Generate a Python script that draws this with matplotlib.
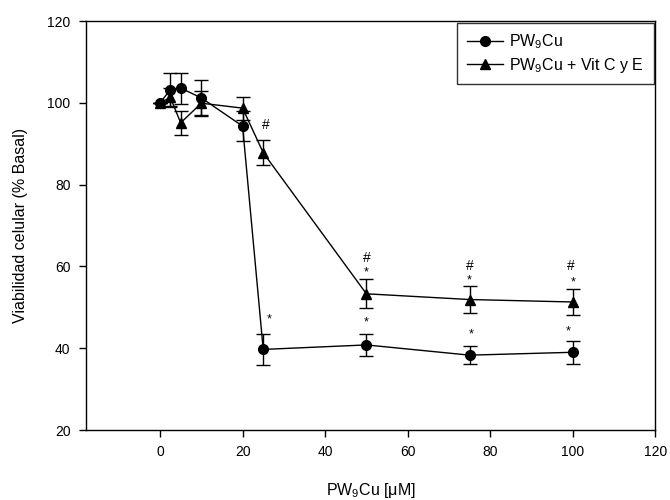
import matplotlib
matplotlib.use("Agg")
import matplotlib.pyplot as plt
from matplotlib.lines import Line2D

plt.rcParams['font.family'] = ['Liberation Sans', 'DejaVu Sans']
plt.rcParams['mathtext.fontset'] = 'custom'
plt.rcParams['mathtext.rm'] = 'Liberation Sans'
plt.rcParams['mathtext.it'] = 'Liberation Sans:italic'

conc = [0, 2.5, 5, 10, 20, 25, 50, 75, 100]
pw9cu = [100.0, 103.2, 103.6, 101.2, 94.3, 39.7, 40.8, 38.3, 39.0]
pw9cu_err = [0.0, 4.0, 3.8, 4.4, 3.7, 3.8, 2.6, 2.2, 2.8]
pw9cu_vit = [100.0, 101.3, 95.1, 99.9, 98.7, 87.8, 53.3, 51.9, 51.3]
pw9cu_vit_err = [0.0, 2.3, 3.0, 3.0, 2.8, 3.1, 3.5, 3.3, 3.1]

# significance marks
star_x = [26.4, 50, 75.3, 99, 50, 75, 100]
star_y = [47.1, 46.4, 43.4, 44.0, 58.5, 56.6, 56.1]
hash_x = [25.6, 50, 75, 99.5]
hash_y = [94.6, 62.0, 60.2, 60.2]

xticks = [0, 20, 40, 60, 80, 100, 120]
yticks = [20, 40, 60, 80, 100, 120]
labels = ['PW$_9$Cu', 'PW$_9$Cu + Vit C y E']

fig = plt.figure(figsize=(6.7, 5.0), dpi=100)
ax = fig.add_axes([0.128, 0.14, 0.85, 0.818])

ax.errorbar(conc, pw9cu, yerr=pw9cu_err, color='black', marker='o', markersize=7,
            linewidth=1, capsize=5, capthick=1, elinewidth=1, zorder=3)
ax.errorbar(conc, pw9cu_vit, yerr=pw9cu_vit_err, color='black', marker='^', markersize=7.5,
            linewidth=1, capsize=5, capthick=1, elinewidth=1, zorder=3)

for x, y in zip(star_x, star_y):
    ax.text(x, y, '*', ha='center', va='center', fontsize=9)
for x, y in zip(hash_x, hash_y):
    ax.text(x, y, '#', ha='center', va='center', fontsize=10)

ax.set_xlim(-18, 120)
ax.set_ylim(20, 120)
ax.set_xticks(xticks)
ax.set_yticks(yticks)
ax.tick_params(direction='out', length=5, width=1, labelsize=10, top=False, right=False, pad=6)
for s in ax.spines.values():
    s.set_linewidth(1)

ax.set_xlabel('PW$_9$Cu [μM]', fontsize=11.5, labelpad=16)
ax.set_ylabel('Viabilidad celular (% Basal)', fontsize=11.5, labelpad=14)

handles = [Line2D([], [], color='black', marker='o', markersize=7, linewidth=1),
           Line2D([], [], color='black', marker='^', markersize=7.5, linewidth=1)]
leg = ax.legend(handles, labels, loc='upper right', fontsize=11.5, frameon=True, fancybox=False,
                edgecolor='black', handlelength=2.25, borderaxespad=0.1,
                borderpad=0.6, labelspacing=0.3, handletextpad=0.4)
leg.get_frame().set_linewidth(1)

fig.savefig('out.png', dpi=100)
